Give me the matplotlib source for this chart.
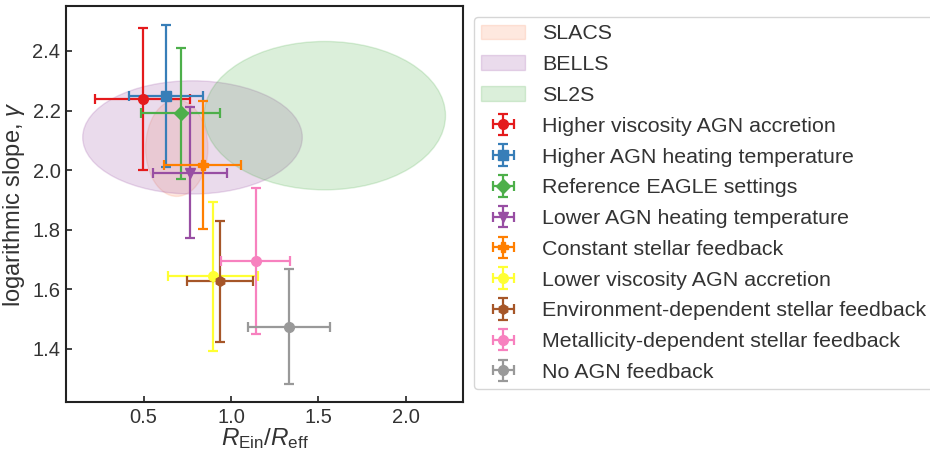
import matplotlib
matplotlib.use("Agg")
import matplotlib.pyplot as plt
from matplotlib.patches import Ellipse

plt.rcParams['font.family'] = ['Liberation Sans', 'DejaVu Sans']
plt.rcParams['mathtext.fontset'] = 'custom'
plt.rcParams['mathtext.rm'] = 'Liberation Sans'
plt.rcParams['mathtext.it'] = 'Liberation Sans:italic'

# Observational survey regions (ellipses): centre x, centre y, width, height
surveys = ['SLACS', 'BELLS', 'SL2S']
survey_x = [0.69, 0.78, 1.536]
survey_y = [2.074, 2.11, 2.183]
survey_w = [0.356, 1.255, 1.38]
survey_h = [0.324, 0.38, 0.498]
survey_colors = ['#fc8d62', '#984ea3', '#4daf4a']

# Simulation runs
labels = ['Higher viscosity AGN accretion', 'Higher AGN heating temperature',
          'Reference EAGLE settings', 'Lower AGN heating temperature',
          'Constant stellar feedback', 'Lower viscosity AGN accretion',
          'Environment-dependent stellar feedback',
          'Metallicity-dependent stellar feedback', 'No AGN feedback']
x_vals = [0.495, 0.629, 0.712, 0.766, 0.838, 0.899, 0.937, 1.141, 1.330]
x_errs = [0.272, 0.213, 0.225, 0.210, 0.220, 0.258, 0.191, 0.197, 0.235]
y_vals = [2.239, 2.250, 2.191, 1.992, 2.016, 1.644, 1.627, 1.696, 1.475]
y_errs = [0.239, 0.238, 0.220, 0.220, 0.215, 0.250, 0.204, 0.245, 0.194]
colors = ['#e41a1c', '#377eb8', '#4daf4a', '#984ea3', '#ff7f00',
          '#ffff33', '#a65628', '#f781bf', '#999999']
markers = ['o', 's', 'D', 'v', 'P', 'o', 'h', 'o', 'o']

fig = plt.figure(figsize=(9.3, 4.55), dpi=100)
ax = fig.add_axes([66/930, 1-402/455, (463-66)/930, (402-6)/455])

for name, cx, cy, w, h, c in zip(surveys, survey_x, survey_y, survey_w, survey_h, survey_colors):
    e = Ellipse((cx, cy), w, h, facecolor=c, edgecolor=c, alpha=0.2, lw=1.0, label=name)
    ax.add_patch(e)

for lab, x, xe, y, ye, c, m in zip(labels, x_vals, x_errs, y_vals, y_errs, colors, markers):
    ax.errorbar(x, y, xerr=xe, yerr=ye, fmt=m, color=c, ecolor=c, ms=7,
                elinewidth=1.6, capsize=3.5, capthick=1.6, label=lab)

ax.set_xlim(0.057, 2.326)
ax.set_ylim(1.222, 2.551)
ax.set_xticks([0.5, 1.0, 1.5, 2.0])
ax.set_yticks([1.4, 1.6, 1.8, 2.0, 2.2, 2.4])
ax.tick_params(direction='in', length=4, width=1.2, labelsize=14.5, colors='#222222',
               labelcolor='#333333', pad=4)
for s in ax.spines.values():
    s.set_linewidth(1.5)
    s.set_color('#222222')
ax.set_xlabel(r'$R_{\mathrm{Ein}}/R_{\mathrm{eff}}$', fontsize=17.5, color='#333333', labelpad=0)
ax.set_ylabel(r'logarithmic slope, $\gamma$', fontsize=17, color='#333333', labelpad=4)

handles, labs = ax.get_legend_handles_labels()
leg = fig.legend(handles, labs, loc='upper left', bbox_to_anchor=(474/930, 1-17/455),
                 bbox_transform=fig.transFigure, borderaxespad=0, fontsize=15.4,
                 frameon=True, fancybox=True, edgecolor='#cccccc', labelspacing=0.55,
                 handlelength=2.05, handletextpad=0.8, borderpad=0.35)
for t in leg.get_texts():
    t.set_color('#333333')

fig.savefig('out.png', dpi=100)
